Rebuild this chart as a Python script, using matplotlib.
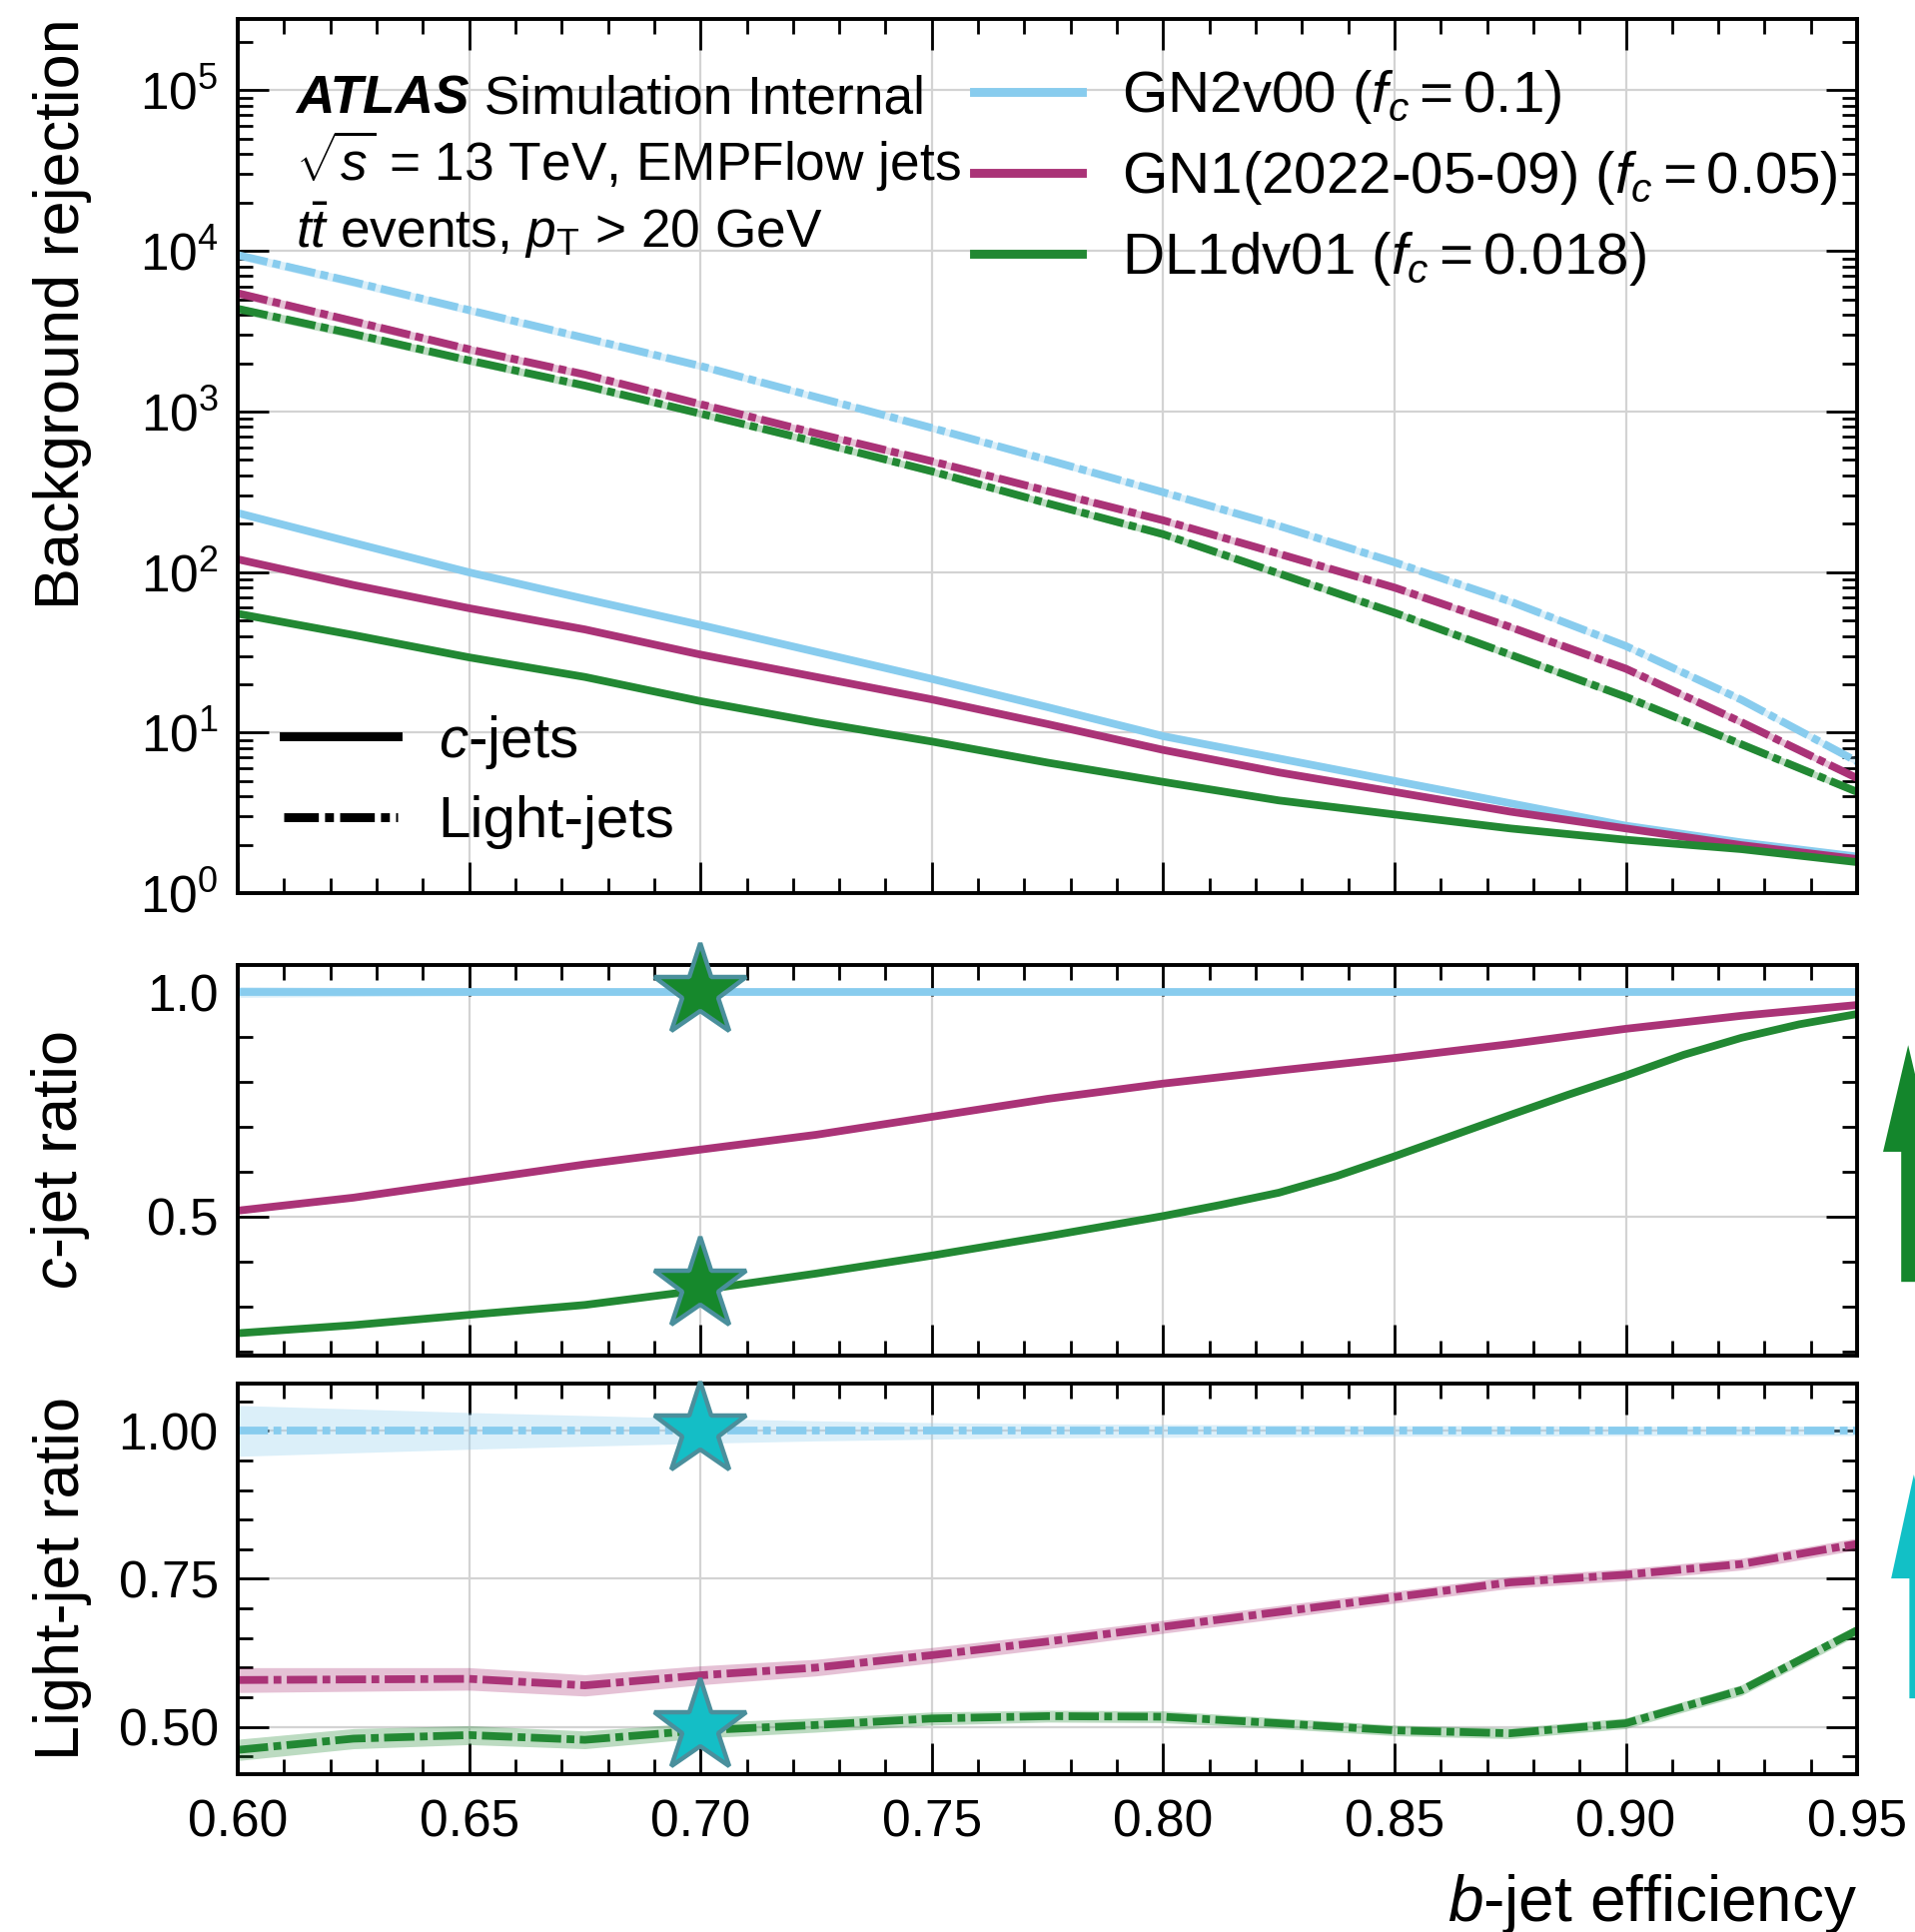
import matplotlib
matplotlib.use("Agg")
import matplotlib.pyplot as plt
from matplotlib.lines import Line2D
from matplotlib.patches import FancyArrow
from matplotlib.ticker import MultipleLocator, FixedLocator, FormatStrFormatter, LogLocator

plt.rcParams["font.family"] = ["Liberation Sans", "DejaVu Sans"]
plt.rcParams["mathtext.fontset"] = "custom"
plt.rcParams["mathtext.rm"] = "Liberation Sans"
plt.rcParams["mathtext.it"] = "Liberation Sans:italic"
plt.rcParams["mathtext.bf"] = "Liberation Sans:bold"

# b-jet efficiency grid
eff = [0.600, 0.625, 0.650, 0.675, 0.700, 0.725, 0.750, 0.775,
       0.800, 0.825, 0.850, 0.875, 0.900, 0.925, 0.950]

# background rejection (top panel)
gn2_light = [9420, 6400, 4280, 2870, 1920, 1230, 790, 500, 314, 194, 115, 65.6, 34.6, 16.0, 6.6]
gn1_light = [5450, 3650, 2440, 1700, 1110, 731, 490, 320, 210, 130, 80, 45.5, 25.0, 11.6, 5.2]
dl1_light = [4360, 3040, 2080, 1450, 970, 647, 424, 268, 172, 98, 55.8, 30.6, 16.7, 8.45, 4.27]
gn2_c = [233, 152, 99.5, 68, 46.8, 31.8, 21.6, 14.4, 9.5, 6.9, 5.0, 3.63, 2.63, 2.07, 1.69]
gn1_c = [120, 83, 59.5, 43.9, 30.6, 22.2, 16.1, 11.3, 7.8, 5.65, 4.27, 3.22, 2.53, 1.99, 1.63]
dl1_c = [55, 40.5, 29.4, 22.2, 15.7, 11.6, 8.8, 6.5, 4.93, 3.78, 3.09, 2.53, 2.15, 1.88, 1.56]
light_rel_unc = [0.06, 0.06, 0.055, 0.055, 0.05, 0.05, 0.05, 0.05, 0.05, 0.05, 0.05, 0.05, 0.05, 0.05, 0.05]

# c-jet rejection ratio to GN2v00
gn2_c_ratio = [1.0] * 15
gn1_c_ratio = [0.513, 0.542, 0.579, 0.616, 0.649, 0.682, 0.722, 0.762,
               0.796, 0.825, 0.853, 0.884, 0.918, 0.947, 0.971]
# DL1 c-jet ratio is read on a finer grid at high efficiency
eff_dl1_c = [0.600, 0.625, 0.650, 0.675, 0.700, 0.725, 0.750, 0.775, 0.800, 0.8125,
             0.825, 0.8375, 0.850, 0.8625, 0.875, 0.8875, 0.900, 0.9125, 0.925, 0.9375, 0.950]
dl1_c_ratio = [0.240, 0.258, 0.281, 0.303, 0.336, 0.373, 0.413, 0.456, 0.501, 0.526,
               0.553, 0.590, 0.634, 0.680, 0.726, 0.771, 0.814, 0.860, 0.898, 0.928, 0.951]
gn2_c_unc = [0.012, 0.010, 0.008, 0.007, 0.006, 0.006, 0.005, 0.005, 0.005, 0.005, 0.005, 0.005, 0.005, 0.005, 0.005]
gn1_c_unc = [0.006, 0.006, 0.005, 0.005, 0.005, 0.005, 0.005, 0.005, 0.005, 0.005, 0.005, 0.005, 0.005, 0.005, 0.005]

# light-jet rejection ratio to GN2v00
gn2_l_ratio = [1.0] * 15
gn1_l_ratio = [0.579, 0.580, 0.581, 0.570, 0.587, 0.600, 0.621, 0.644,
               0.669, 0.694, 0.719, 0.744, 0.757, 0.775, 0.809]
dl1_l_ratio = [0.461, 0.480, 0.486, 0.478, 0.494, 0.503, 0.514, 0.518,
               0.517, 0.506, 0.494, 0.489, 0.506, 0.562, 0.663]
gn2_l_unc = [0.043, 0.037, 0.031, 0.026, 0.021, 0.017, 0.014, 0.012, 0.011, 0.010, 0.009, 0.009, 0.008, 0.008, 0.008]
gn1_l_unc = [0.021, 0.020, 0.019, 0.018, 0.016, 0.014, 0.013, 0.012, 0.011, 0.011, 0.010, 0.010, 0.010, 0.010, 0.010]
dl1_l_unc = [0.018, 0.017, 0.016, 0.015, 0.013, 0.012, 0.011, 0.010, 0.010, 0.009, 0.009, 0.009, 0.009, 0.009, 0.009]

# working point stars
star_eff = [0.70, 0.70]
star_c = [1.0, 0.345]
star_l = [1.0, 0.50]

labels = [r"GN2v00 ($f_c = 0.1$)", r"GN1(2022-05-09) ($f_c = 0.05$)", r"DL1dv01 ($f_c = 0.018$)"]
colors = ["#88CCEE", "#AA3377", "#228833"]
lw = 2.8
dashdot = (0, (3.9, 0.7, 1.0, 0.7))

fig = plt.figure(figsize=(9.585, 9.67), dpi=200)
ax0 = fig.add_axes([0.1242, 0.5377, 0.8456, 0.4527])
ax1 = fig.add_axes([0.1242, 0.2983, 0.8456, 0.2022], sharex=ax0)
ax2 = fig.add_axes([0.1242, 0.0817, 0.8456, 0.2022], sharex=ax0)

# top panel
for light, col in zip([gn2_light, gn1_light, dl1_light], colors):
    lo = [v * (1 - u) for v, u in zip(light, light_rel_unc)]
    hi = [v * (1 + u) for v, u in zip(light, light_rel_unc)]
    ax0.fill_between(eff, lo, hi, color=col, alpha=0.3, lw=0)
    ax0.plot(eff, light, color=col, lw=lw, ls=dashdot)
for cj, col in zip([gn2_c, gn1_c, dl1_c], colors):
    ax0.plot(eff, cj, color=col, lw=lw, ls="-")
ax0.set_yscale("log")
ax0.set_ylim(1, 2.8e5)
ax0.yaxis.set_major_locator(LogLocator(base=10, numticks=10))
ax0.yaxis.set_minor_locator(LogLocator(base=10, subs=[2, 3, 4, 5, 6, 7, 8, 9], numticks=20))
ax0.set_ylabel("Background rejection", fontsize=22.7, loc="top")

# middle panel
c_sets = [(eff, gn2_c_ratio, gn2_c_unc), (eff, gn1_c_ratio, gn1_c_unc)]
for (x, r, u), col in zip(c_sets, colors[:2]):
    ax1.fill_between(x, [a - b for a, b in zip(r, u)], [a + b for a, b in zip(r, u)],
                     color=col, alpha=0.3, lw=0)
    ax1.plot(x, r, color=col, lw=lw, ls="-")
ax1.plot(eff_dl1_c, dl1_c_ratio, color=colors[2], lw=lw, ls="-")
ax1.plot(star_eff, star_c, ls="none", marker="*", ms=35, mfc="#16882c", mec="#4a8f9c",
         mew=1.6, zorder=10, clip_on=False)
ax1.set_ylim(0.19, 1.06)
ax1.yaxis.set_major_locator(FixedLocator([0.5, 1.0]))
ax1.yaxis.set_minor_locator(MultipleLocator(0.1))
ax1.yaxis.set_major_formatter(FormatStrFormatter("%.1f"))
ax1.set_ylabel(r"$c$-jet ratio", fontsize=22.7)

# bottom panel
for r, u, col in zip([gn2_l_ratio, gn1_l_ratio, dl1_l_ratio], [gn2_l_unc, gn1_l_unc, dl1_l_unc], colors):
    ax2.fill_between(eff, [a - b for a, b in zip(r, u)], [a + b for a, b in zip(r, u)],
                     color=col, alpha=0.3, lw=0)
    ax2.plot(eff, r, color=col, lw=lw, ls=dashdot)
ax2.plot(star_eff, star_l, ls="none", marker="*", ms=35, mfc="#14bec6", mec="#4a8f9c",
         mew=1.6, zorder=10, clip_on=False)
ax2.set_ylim(0.42, 1.08)
ax2.yaxis.set_major_locator(FixedLocator([0.5, 0.75, 1.0]))
ax2.yaxis.set_minor_locator(MultipleLocator(0.05))
ax2.yaxis.set_major_formatter(FormatStrFormatter("%.2f"))
ax2.set_ylabel("Light-jet ratio", fontsize=22.7)
ax2.set_xlabel(r"$b$-jet efficiency", fontsize=23, loc="right")

ax0.set_xlim(0.6, 0.95)
ax0.xaxis.set_major_locator(MultipleLocator(0.05))
ax0.xaxis.set_minor_locator(MultipleLocator(0.01))
ax2.xaxis.set_major_formatter(FormatStrFormatter("%.2f"))

for ax in [ax0, ax1, ax2]:
    ax.set_axisbelow(True)
    ax.grid(True, which="major", color="#d3d3d3", lw=0.8)
    ax.tick_params(which="both", direction="in", top=True, right=True, labelsize=18.5)
    ax.tick_params(which="major", length=11, width=1.0, pad=7)
    ax.tick_params(which="minor", length=5.5, width=1.0)
    ax.tick_params(axis="x", which="major", pad=9)
    for sp in ax.spines.values():
        sp.set_linewidth(1.4)
ax0.tick_params(labelbottom=False)
ax1.tick_params(labelbottom=False)

ax0.yaxis.set_label_coords(-0.09, 1.0)
ax1.yaxis.set_label_coords(-0.09, 0.5)
ax2.yaxis.set_label_coords(-0.09, 0.5)
ax2.xaxis.set_label_coords(1.0, -0.25)

# labels in top panel
t1 = ax0.text(0.0358, 0.8915, "ATLAS", transform=ax0.transAxes, fontsize=19.2,
              fontweight="bold", style="italic", va="baseline")
ax0.annotate(" Simulation Internal", xy=(1, 0), xycoords=t1, fontsize=19.2, va="bottom")
ax0.text(0.0358, 0.8144, r"$\sqrt{s}$ = 13 TeV, EMPFlow jets", transform=ax0.transAxes,
         fontsize=19.2, va="baseline")
ax0.text(0.0358, 0.7379, r"$t\bar{t}$ events, $p_{\mathrm{T}}$ > 20 GeV", transform=ax0.transAxes,
         fontsize=19.2, va="baseline")

model_handles = [Line2D([], [], color=c, lw=3.2) for c in colors]
leg1 = ax0.legend(model_handles, labels, loc="upper left", bbox_to_anchor=(0.4543, 0.943),
                  frameon=False, fontsize=21, handlelength=1.86, handletextpad=0.68,
                  labelspacing=0.39, borderpad=0, borderaxespad=0)
ax0.add_artist(leg1)
jet_handles = [Line2D([], [], color="k", lw=3.2, ls="-"),
               Line2D([], [], color="k", lw=3.2, ls=dashdot)]
ax0.legend(jet_handles, [r"$c$-jets", "Light-jets"], loc="lower left", bbox_to_anchor=(0.0284, 0.05),
           frameon=False, fontsize=21, handlelength=1.95, handletextpad=0.7,
           labelspacing=0.42, borderpad=0, borderaxespad=0)

# arrows at the right edge
ax1.add_patch(FancyArrow(1.0315, 0.189, 0, 0.606, width=0.0086, head_width=0.031, head_length=0.273,
                         length_includes_head=True, transform=ax1.transAxes, clip_on=False,
                         color="#14862c", lw=0))
ax2.add_patch(FancyArrow(1.035, 0.194, 0, 0.573, width=0.0055, head_width=0.028, head_length=0.266,
                         length_includes_head=True, transform=ax2.transAxes, clip_on=False,
                         color="#12c0c6", lw=0))

fig.savefig("out.png", dpi=200)
